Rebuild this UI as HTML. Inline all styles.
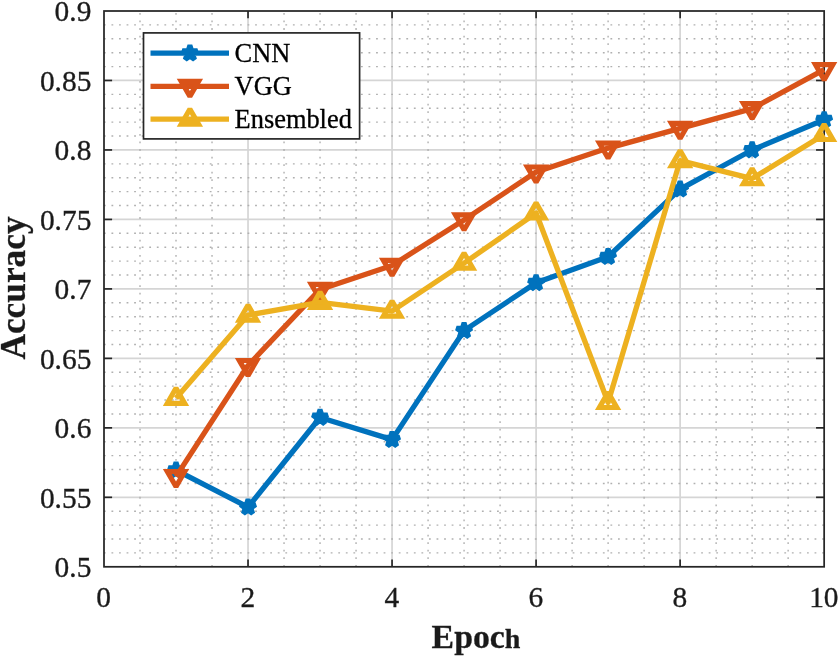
<!DOCTYPE html>
<html><head><meta charset="utf-8"><title>Accuracy vs Epoch</title>
<style>
html,body{margin:0;padding:0;background:#fff;}
body{width:840px;height:658px;overflow:hidden;}
svg{display:block;}
text{font-family:"Liberation Serif","Times New Roman",serif;fill:#1a1a1a;}
.tick{font-size:30.4px;stroke:#262626;stroke-width:0.35px;}
.lab{font-weight:bold;stroke:#262626;stroke-width:0.3px;}
.leg{font-size:26.4px;fill:#000;stroke:#000;stroke-width:0.3px;}
</style></head><body>
<svg width="840" height="658" viewBox="0 0 840 658">
<rect x="0" y="0" width="840" height="658" fill="#ffffff"/>

<g stroke="#d5d5d5" stroke-width="1.7" fill="none">
<line x1="248.03" y1="11.00" x2="248.03" y2="566.80"/>
<line x1="392.06" y1="11.00" x2="392.06" y2="566.80"/>
<line x1="536.09" y1="11.00" x2="536.09" y2="566.80"/>
<line x1="680.12" y1="11.00" x2="680.12" y2="566.80"/>
<line x1="104.00" y1="497.32" x2="824.15" y2="497.32"/>
<line x1="104.00" y1="427.85" x2="824.15" y2="427.85"/>
<line x1="104.00" y1="358.38" x2="824.15" y2="358.38"/>
<line x1="104.00" y1="288.90" x2="824.15" y2="288.90"/>
<line x1="104.00" y1="219.43" x2="824.15" y2="219.43"/>
<line x1="104.00" y1="149.95" x2="824.15" y2="149.95"/>
<line x1="104.00" y1="80.47" x2="824.15" y2="80.47"/>
</g>
<g stroke="#b0b0b0" stroke-width="1.4" stroke-dasharray="1.8 5.76" fill="none">
<line x1="140.01" y1="13.00" x2="140.01" y2="566.80"/>
<line x1="176.01" y1="13.00" x2="176.01" y2="566.80"/>
<line x1="212.02" y1="13.00" x2="212.02" y2="566.80"/>
<line x1="284.04" y1="13.00" x2="284.04" y2="566.80"/>
<line x1="320.04" y1="13.00" x2="320.04" y2="566.80"/>
<line x1="356.05" y1="13.00" x2="356.05" y2="566.80"/>
<line x1="428.07" y1="13.00" x2="428.07" y2="566.80"/>
<line x1="464.07" y1="13.00" x2="464.07" y2="566.80"/>
<line x1="500.08" y1="13.00" x2="500.08" y2="566.80"/>
<line x1="572.10" y1="13.00" x2="572.10" y2="566.80"/>
<line x1="608.11" y1="13.00" x2="608.11" y2="566.80"/>
<line x1="644.11" y1="13.00" x2="644.11" y2="566.80"/>
<line x1="716.13" y1="13.00" x2="716.13" y2="566.80"/>
<line x1="752.13" y1="13.00" x2="752.13" y2="566.80"/>
<line x1="788.14" y1="13.00" x2="788.14" y2="566.80"/>
<line x1="103.90" y1="552.90" x2="824.15" y2="552.90"/>
<line x1="103.90" y1="539.01" x2="824.15" y2="539.01"/>
<line x1="103.90" y1="525.11" x2="824.15" y2="525.11"/>
<line x1="103.90" y1="511.22" x2="824.15" y2="511.22"/>
<line x1="103.90" y1="483.43" x2="824.15" y2="483.43"/>
<line x1="103.90" y1="469.53" x2="824.15" y2="469.53"/>
<line x1="103.90" y1="455.64" x2="824.15" y2="455.64"/>
<line x1="103.90" y1="441.75" x2="824.15" y2="441.75"/>
<line x1="103.90" y1="413.96" x2="824.15" y2="413.96"/>
<line x1="103.90" y1="400.06" x2="824.15" y2="400.06"/>
<line x1="103.90" y1="386.17" x2="824.15" y2="386.17"/>
<line x1="103.90" y1="372.27" x2="824.15" y2="372.27"/>
<line x1="103.90" y1="344.48" x2="824.15" y2="344.48"/>
<line x1="103.90" y1="330.58" x2="824.15" y2="330.58"/>
<line x1="103.90" y1="316.69" x2="824.15" y2="316.69"/>
<line x1="103.90" y1="302.80" x2="824.15" y2="302.80"/>
<line x1="103.90" y1="275.01" x2="824.15" y2="275.01"/>
<line x1="103.90" y1="261.11" x2="824.15" y2="261.11"/>
<line x1="103.90" y1="247.22" x2="824.15" y2="247.22"/>
<line x1="103.90" y1="233.32" x2="824.15" y2="233.32"/>
<line x1="103.90" y1="205.53" x2="824.15" y2="205.53"/>
<line x1="103.90" y1="191.63" x2="824.15" y2="191.63"/>
<line x1="103.90" y1="177.74" x2="824.15" y2="177.74"/>
<line x1="103.90" y1="163.84" x2="824.15" y2="163.84"/>
<line x1="103.90" y1="136.05" x2="824.15" y2="136.05"/>
<line x1="103.90" y1="122.16" x2="824.15" y2="122.16"/>
<line x1="103.90" y1="108.26" x2="824.15" y2="108.26"/>
<line x1="103.90" y1="94.37" x2="824.15" y2="94.37"/>
<line x1="103.90" y1="66.58" x2="824.15" y2="66.58"/>
<line x1="103.90" y1="52.69" x2="824.15" y2="52.69"/>
<line x1="103.90" y1="38.79" x2="824.15" y2="38.79"/>
<line x1="103.90" y1="24.90" x2="824.15" y2="24.90"/>
</g>
<g stroke="#262626" stroke-width="1.7" fill="none">
<line x1="248.03" y1="566.80" x2="248.03" y2="559.50"/>
<line x1="248.03" y1="11.00" x2="248.03" y2="18.30"/>
<line x1="392.06" y1="566.80" x2="392.06" y2="559.50"/>
<line x1="392.06" y1="11.00" x2="392.06" y2="18.30"/>
<line x1="536.09" y1="566.80" x2="536.09" y2="559.50"/>
<line x1="536.09" y1="11.00" x2="536.09" y2="18.30"/>
<line x1="680.12" y1="566.80" x2="680.12" y2="559.50"/>
<line x1="680.12" y1="11.00" x2="680.12" y2="18.30"/>
<line x1="104.00" y1="497.32" x2="112.10" y2="497.32"/>
<line x1="824.15" y1="497.32" x2="816.05" y2="497.32"/>
<line x1="104.00" y1="427.85" x2="112.10" y2="427.85"/>
<line x1="824.15" y1="427.85" x2="816.05" y2="427.85"/>
<line x1="104.00" y1="358.38" x2="112.10" y2="358.38"/>
<line x1="824.15" y1="358.38" x2="816.05" y2="358.38"/>
<line x1="104.00" y1="288.90" x2="112.10" y2="288.90"/>
<line x1="824.15" y1="288.90" x2="816.05" y2="288.90"/>
<line x1="104.00" y1="219.43" x2="112.10" y2="219.43"/>
<line x1="824.15" y1="219.43" x2="816.05" y2="219.43"/>
<line x1="104.00" y1="149.95" x2="112.10" y2="149.95"/>
<line x1="824.15" y1="149.95" x2="816.05" y2="149.95"/>
<line x1="104.00" y1="80.47" x2="112.10" y2="80.47"/>
<line x1="824.15" y1="80.47" x2="816.05" y2="80.47"/>
</g>
<rect x="104.00" y="11.00" width="720.15" height="555.80" fill="none" stroke="#262626" stroke-width="1.75"/>
<polyline points="176.01,470.20 248.03,507.15 320.04,417.50 392.06,439.60 464.07,330.60 536.09,282.80 608.11,256.70 680.12,189.10 752.13,150.00 824.15,119.80" fill="none" stroke="#0072BD" stroke-width="5.3" stroke-linejoin="round"/>
<polygon points="176.01,462.30 177.79,467.76 183.53,467.76 178.89,471.13 180.66,476.59 176.01,473.22 171.37,476.59 173.14,471.13 168.50,467.76 174.24,467.76" fill="#0072BD" stroke="#0072BD" stroke-width="5.0" stroke-linejoin="bevel"/>
<polygon points="248.03,499.25 249.80,504.71 255.54,504.71 250.90,508.08 252.67,513.54 248.03,510.17 243.39,513.54 245.16,508.08 240.52,504.71 246.26,504.71" fill="#0072BD" stroke="#0072BD" stroke-width="5.0" stroke-linejoin="bevel"/>
<polygon points="320.04,409.60 321.82,415.06 327.56,415.06 322.92,418.43 324.69,423.89 320.04,420.52 315.40,423.89 317.17,418.43 312.53,415.06 318.27,415.06" fill="#0072BD" stroke="#0072BD" stroke-width="5.0" stroke-linejoin="bevel"/>
<polygon points="392.06,431.70 393.83,437.16 399.57,437.16 394.93,440.53 396.70,445.99 392.06,442.62 387.42,445.99 389.19,440.53 384.55,437.16 390.29,437.16" fill="#0072BD" stroke="#0072BD" stroke-width="5.0" stroke-linejoin="bevel"/>
<polygon points="464.07,322.70 465.85,328.16 471.59,328.16 466.95,331.53 468.72,336.99 464.07,333.62 459.43,336.99 461.20,331.53 456.56,328.16 462.30,328.16" fill="#0072BD" stroke="#0072BD" stroke-width="5.0" stroke-linejoin="bevel"/>
<polygon points="536.09,274.90 537.86,280.36 543.60,280.36 538.96,283.73 540.73,289.19 536.09,285.82 531.45,289.19 533.22,283.73 528.58,280.36 534.32,280.36" fill="#0072BD" stroke="#0072BD" stroke-width="5.0" stroke-linejoin="bevel"/>
<polygon points="608.11,248.80 609.88,254.26 615.62,254.26 610.98,257.63 612.75,263.09 608.11,259.72 603.46,263.09 605.23,257.63 600.59,254.26 606.33,254.26" fill="#0072BD" stroke="#0072BD" stroke-width="5.0" stroke-linejoin="bevel"/>
<polygon points="680.12,181.20 681.89,186.66 687.63,186.66 682.99,190.03 684.76,195.49 680.12,192.12 675.48,195.49 677.25,190.03 672.61,186.66 678.35,186.66" fill="#0072BD" stroke="#0072BD" stroke-width="5.0" stroke-linejoin="bevel"/>
<polygon points="752.13,142.10 753.91,147.56 759.65,147.56 755.01,150.93 756.78,156.39 752.13,153.02 747.49,156.39 749.26,150.93 744.62,147.56 750.36,147.56" fill="#0072BD" stroke="#0072BD" stroke-width="5.0" stroke-linejoin="bevel"/>
<polygon points="824.15,111.90 825.92,117.36 831.66,117.36 827.02,120.73 828.79,126.19 824.15,122.82 819.51,126.19 821.28,120.73 816.64,117.36 822.38,117.36" fill="#0072BD" stroke="#0072BD" stroke-width="5.0" stroke-linejoin="bevel"/>
<polyline points="176.01,476.60 248.03,365.50 320.04,289.40 392.06,265.40 464.07,219.90 536.09,172.00 608.11,148.10 680.12,128.40 752.13,108.60 824.15,69.70" fill="none" stroke="#D95319" stroke-width="5.3" stroke-linejoin="round"/>
<path d="M162.86,469.01 L189.17,469.01 L178.18,488.03 L173.85,488.03 Z M171.74,474.20 L176.01,481.60 L180.29,474.20 Z" fill="#D95319" fill-rule="evenodd"/>
<path d="M234.88,357.91 L261.18,357.91 L250.20,376.93 L245.86,376.93 Z M243.76,363.10 L248.03,370.50 L252.30,363.10 Z" fill="#D95319" fill-rule="evenodd"/>
<path d="M306.89,281.81 L333.20,281.81 L322.21,300.83 L317.88,300.83 Z M315.77,287.00 L320.04,294.40 L324.32,287.00 Z" fill="#D95319" fill-rule="evenodd"/>
<path d="M378.91,257.81 L405.21,257.81 L394.23,276.83 L389.89,276.83 Z M387.79,263.00 L392.06,270.40 L396.33,263.00 Z" fill="#D95319" fill-rule="evenodd"/>
<path d="M450.92,212.31 L477.23,212.31 L466.24,231.33 L461.91,231.33 Z M459.80,217.50 L464.07,224.90 L468.35,217.50 Z" fill="#D95319" fill-rule="evenodd"/>
<path d="M522.94,164.41 L549.24,164.41 L538.26,183.43 L533.92,183.43 Z M531.82,169.60 L536.09,177.00 L540.36,169.60 Z" fill="#D95319" fill-rule="evenodd"/>
<path d="M594.95,140.51 L621.26,140.51 L610.27,159.53 L605.94,159.53 Z M603.83,145.70 L608.11,153.10 L612.38,145.70 Z" fill="#D95319" fill-rule="evenodd"/>
<path d="M666.97,120.81 L693.27,120.81 L682.29,139.83 L677.95,139.83 Z M675.85,126.00 L680.12,133.40 L684.39,126.00 Z" fill="#D95319" fill-rule="evenodd"/>
<path d="M738.98,101.01 L765.29,101.01 L754.30,120.03 L749.97,120.03 Z M747.86,106.20 L752.13,113.60 L756.41,106.20 Z" fill="#D95319" fill-rule="evenodd"/>
<path d="M811.00,62.11 L837.30,62.11 L826.32,81.13 L821.98,81.13 Z M819.88,67.30 L824.15,74.70 L828.42,67.30 Z" fill="#D95319" fill-rule="evenodd"/>
<polyline points="176.01,398.30 248.03,315.10 320.04,302.30 392.06,311.10 464.07,263.10 536.09,213.00 608.11,402.50 680.12,160.60 752.13,178.60 824.15,134.50" fill="none" stroke="#EDB120" stroke-width="5.3" stroke-linejoin="round"/>
<path d="M162.86,405.89 L189.17,405.89 L178.18,386.87 L173.85,386.87 Z M171.74,400.70 L176.01,393.30 L180.29,400.70 Z" fill="#EDB120" fill-rule="evenodd"/>
<path d="M234.88,322.69 L261.18,322.69 L250.20,303.67 L245.86,303.67 Z M243.76,317.50 L248.03,310.10 L252.30,317.50 Z" fill="#EDB120" fill-rule="evenodd"/>
<path d="M306.89,309.89 L333.20,309.89 L322.21,290.87 L317.88,290.87 Z M315.77,304.70 L320.04,297.30 L324.32,304.70 Z" fill="#EDB120" fill-rule="evenodd"/>
<path d="M378.91,318.69 L405.21,318.69 L394.23,299.67 L389.89,299.67 Z M387.79,313.50 L392.06,306.10 L396.33,313.50 Z" fill="#EDB120" fill-rule="evenodd"/>
<path d="M450.92,270.69 L477.23,270.69 L466.24,251.67 L461.91,251.67 Z M459.80,265.50 L464.07,258.10 L468.35,265.50 Z" fill="#EDB120" fill-rule="evenodd"/>
<path d="M522.94,220.59 L549.24,220.59 L538.26,201.57 L533.92,201.57 Z M531.82,215.40 L536.09,208.00 L540.36,215.40 Z" fill="#EDB120" fill-rule="evenodd"/>
<path d="M594.95,410.09 L621.26,410.09 L610.27,391.07 L605.94,391.07 Z M603.83,404.90 L608.11,397.50 L612.38,404.90 Z" fill="#EDB120" fill-rule="evenodd"/>
<path d="M666.97,168.19 L693.27,168.19 L682.29,149.17 L677.95,149.17 Z M675.85,163.00 L680.12,155.60 L684.39,163.00 Z" fill="#EDB120" fill-rule="evenodd"/>
<path d="M738.98,186.19 L765.29,186.19 L754.30,167.17 L749.97,167.17 Z M747.86,181.00 L752.13,173.60 L756.41,181.00 Z" fill="#EDB120" fill-rule="evenodd"/>
<path d="M811.00,142.09 L837.30,142.09 L826.32,123.07 L821.98,123.07 Z M819.88,136.90 L824.15,129.50 L828.42,136.90 Z" fill="#EDB120" fill-rule="evenodd"/>
<rect x="143.5" y="32.9" width="216.10" height="106.00" fill="#ffffff" stroke="#262626" stroke-width="1.7"/>
<line x1="150.5" y1="53.2" x2="229" y2="53.2" stroke="#0072BD" stroke-width="5.3"/>
<polygon points="189.90,45.30 191.67,50.76 197.41,50.76 192.77,54.13 194.54,59.59 189.90,56.22 185.26,59.59 187.03,54.13 182.39,50.76 188.13,50.76" fill="#0072BD" stroke="#0072BD" stroke-width="5.0" stroke-linejoin="bevel"/>
<text class="leg" x="234.6" y="61.6">CNN</text>
<line x1="150.5" y1="86.3" x2="229" y2="86.3" stroke="#D95319" stroke-width="5.3"/>
<path d="M176.75,78.71 L203.05,78.71 L192.07,97.73 L187.73,97.73 Z M186.20,84.70 L189.90,91.10 L193.60,84.70 Z" fill="#D95319" fill-rule="evenodd"/>
<text class="leg" x="234.6" y="94.7">VGG</text>
<line x1="150.5" y1="119.1" x2="229" y2="119.1" stroke="#EDB120" stroke-width="5.3"/>
<path d="M176.75,126.69 L203.05,126.69 L192.07,107.67 L187.73,107.67 Z M186.20,120.70 L189.90,114.30 L193.60,120.70 Z" fill="#EDB120" fill-rule="evenodd"/>
<text class="leg" x="234.6" y="127.5">Ensembled</text>
<text class="tick" text-anchor="end" transform="translate(91.4,577.10) scale(0.968,1)">0.5</text>
<text class="tick" text-anchor="end" transform="translate(91.4,507.62) scale(0.968,1)">0.55</text>
<text class="tick" text-anchor="end" transform="translate(91.4,438.15) scale(0.968,1)">0.6</text>
<text class="tick" text-anchor="end" transform="translate(91.4,368.68) scale(0.968,1)">0.65</text>
<text class="tick" text-anchor="end" transform="translate(91.4,299.20) scale(0.968,1)">0.7</text>
<text class="tick" text-anchor="end" transform="translate(91.4,229.73) scale(0.968,1)">0.75</text>
<text class="tick" text-anchor="end" transform="translate(91.4,160.25) scale(0.968,1)">0.8</text>
<text class="tick" text-anchor="end" transform="translate(91.4,90.77) scale(0.968,1)">0.85</text>
<text class="tick" text-anchor="end" transform="translate(91.4,21.30) scale(0.968,1)">0.9</text>
<text class="tick" text-anchor="middle" transform="translate(103.70,607.3) scale(0.968,1)">0</text>
<text class="tick" text-anchor="middle" transform="translate(247.73,607.3) scale(0.968,1)">2</text>
<text class="tick" text-anchor="middle" transform="translate(391.76,607.3) scale(0.968,1)">4</text>
<text class="tick" text-anchor="middle" transform="translate(535.79,607.3) scale(0.968,1)">6</text>
<text class="tick" text-anchor="middle" transform="translate(679.82,607.3) scale(0.968,1)">8</text>
<text class="tick" text-anchor="middle" transform="translate(823.85,607.3) scale(0.968,1)">10</text>
<text class="lab" font-size="33.8" x="431.6" y="648.1">Epoc<tspan font-size="28">h</tspan></text>
<text class="lab" font-size="35.3" text-anchor="middle" transform="translate(25,288.0) rotate(-90)">Accuracy</text>
</svg></body></html>
